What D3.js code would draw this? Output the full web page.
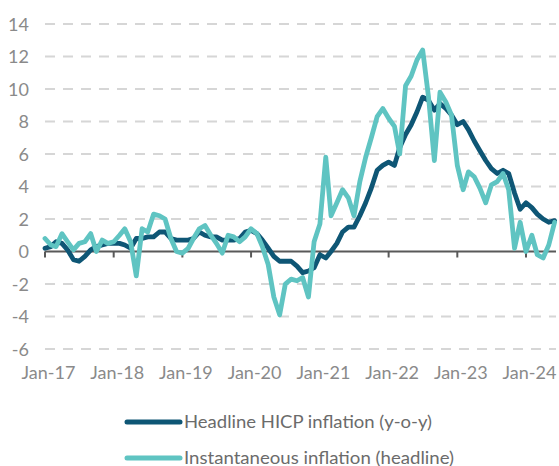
<!DOCTYPE html>
<html><head><meta charset="utf-8">
<script src="https://cdn.jsdelivr.net/npm/d3@7"></script>
<style>
html,body{margin:0;padding:0;background:#fff;}
svg{display:block;font-family:Lato,"Open Sans",sans-serif;}
</style></head>
<body><svg id="chart" width="559" height="466"></svg>
<script>
// Monthly observations Jan-2017 .. Jun-2024
const firstMonth = "2017-01";
const lastMonth = "2024-06";
const headlineHICP = [
 0.2,0.3,0.6,0.5,0.1,-0.5,-0.6,-0.3,0.1,0.3,0.4,0.5,
 0.5,0.5,0.4,0.2,0.8,0.8,0.9,0.9,1.2,1.2,0.8,0.7,
 0.7,0.7,0.8,1.2,1.0,0.9,0.9,0.7,0.7,0.7,0.8,1.2,
 1.3,1.1,0.7,0.2,-0.3,-0.6,-0.6,-0.6,-0.9,-1.3,-1.2,-1.0,
 -0.2,-0.4,0.0,0.5,1.2,1.5,1.5,2.2,3.0,3.9,5.0,5.3,
 5.5,5.3,6.4,7.2,7.8,8.6,9.5,9.3,8.7,9.1,8.8,8.4,
 7.8,8.0,7.5,6.8,6.2,5.6,5.1,4.8,5.0,4.8,3.6,2.6,
 3.0,2.7,2.3,2.0,1.8,1.9
];
const instantaneous = [
 0.8,0.4,0.3,1.1,0.6,0.1,0.5,0.6,1.1,0.0,0.7,0.5,
 0.6,1.0,1.4,0.6,-1.5,1.4,1.2,2.3,2.2,2.0,0.8,0.0,
 -0.1,0.2,0.8,1.4,1.6,1.0,0.5,-0.1,1.0,0.9,0.6,0.9,
 1.4,1.1,0.3,-0.8,-2.8,-3.9,-2.0,-1.7,-1.8,-1.6,-2.8,0.6,
 1.7,5.8,2.2,3.0,3.8,3.3,2.2,4.3,5.8,7.0,8.3,8.8,
 8.2,7.7,6.0,10.2,10.8,11.8,12.4,9.5,5.6,9.8,9.2,8.4,
 5.3,3.8,4.9,4.6,3.9,3.0,4.1,4.3,4.8,3.8,0.2,1.8,
 0.0,1.0,-0.2,-0.4,0.4,1.8
];
const yTicks = [-6,-4,-2,0,2,4,6,8,10,12,14];
const xTickYears = ["2017","2018","2019","2020","2021","2022","2023","2024"];
const seriesNames = ["Headline HICP inflation (y-o-y)", "Instantaneous inflation (headline)"];
const seriesColors = ["#0e5675", "#5fc4c2"];

const parseM = d3.timeParse("%Y-%m");
const months = d3.timeMonth.range(parseM(firstMonth), d3.timeMonth.offset(parseM(lastMonth), 1));

const svg = d3.select("#chart");
const x = d3.scaleTime().domain([parseM("2017-01"), parseM("2024-01")]).range([45, 526]);
const y = d3.scaleLinear().domain([-6, 14]).range([349, 24]);

// gridlines
svg.append("g").selectAll("line").data(yTicks.filter(d => d !== 0)).join("line")
  .attr("x1", 45).attr("x2", 556)
  .attr("y1", d => y(d)).attr("y2", d => y(d))
  .attr("stroke", "#d6d6d6").attr("stroke-width", 2).attr("stroke-dasharray", "10,8");

// y labels
svg.append("g").selectAll("text").data(yTicks).join("text")
  .attr("x", 29).attr("y", d => y(d) + 6.5)
  .attr("text-anchor", "end").attr("font-size", 18).attr("fill", "#8a8a8a")
  .text(d => d);

// x axis line at zero + ticks
const tickDates = xTickYears.map(s => d3.timeParse("%Y")(s));
svg.append("line").attr("x1", 45).attr("x2", 556).attr("y1", y(0)).attr("y2", y(0))
  .attr("stroke", "#595959").attr("stroke-width", 1.8);
svg.append("g").selectAll("line").data(tickDates).join("line")
  .attr("x1", d => x(d)).attr("x2", d => x(d))
  .attr("y1", y(0)).attr("y2", y(0) + 6)
  .attr("stroke", "#595959").attr("stroke-width", 2);

// x labels
const fmt = d3.timeFormat("%b-%y");
svg.append("g").selectAll("text").data(tickDates).join("text")
  .attr("x", d => x(d) + 3.5).attr("y", 378.5)
  .attr("text-anchor", "middle").attr("font-size", 18).attr("fill", "#8a8a8a")
  .text(d => fmt(d));

// lines
const line = d3.line().x((d, i) => x(months[i])).y(d => y(d)).curve(d3.curveLinear);
[headlineHICP, instantaneous].forEach((s, k) => {
  svg.append("path").datum(s).attr("d", line)
    .attr("fill", "none").attr("stroke", seriesColors[k])
    .attr("stroke-width", 4.8)
    .attr("stroke-linejoin", "round").attr("stroke-linecap", "round");
});

// legend
const legendWidths = [248, 270];
const lg = svg.append("g");
seriesNames.forEach((name, k) => {
  const ly = 422 + k * 36;
  lg.append("line").attr("x1", 127).attr("x2", 180).attr("y1", ly).attr("y2", ly)
    .attr("stroke", seriesColors[k]).attr("stroke-width", 5).attr("stroke-linecap", "round");
  lg.append("text").attr("x", 184).attr("y", ly + 5.5)
    .attr("font-size", k === 0 ? 18 : 17.5).attr("fill", "#6b6b6b")
    .attr("textLength", legendWidths[k]).attr("lengthAdjust", "spacingAndGlyphs")
    .text(name);
});
</script></body></html>
